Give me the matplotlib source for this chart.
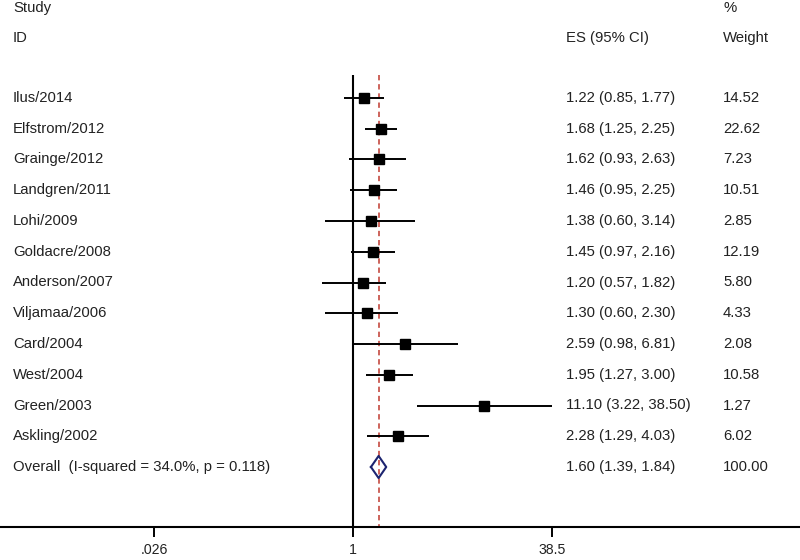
import numpy as np
import matplotlib
matplotlib.use('Agg')
import matplotlib.pyplot as plt
import matplotlib.transforms as mtrans
from matplotlib.ticker import FixedLocator, FixedFormatter, NullLocator

# ------------------------------------------------------------------
# dados
# ------------------------------------------------------------------
estudos = ['Ilus/2014', 'Elfstrom/2012', 'Grainge/2012', 'Landgren/2011',
           'Lohi/2009', 'Goldacre/2008', 'Anderson/2007', 'Viljamaa/2006',
           'Card/2004', 'West/2004', 'Green/2003', 'Askling/2002']
es    = [1.22, 1.68, 1.62, 1.46, 1.38, 1.45, 1.20, 1.30, 2.59, 1.95, 11.10, 2.28]
ic_lo = [0.85, 1.25, 0.93, 0.95, 0.60, 0.97, 0.57, 0.60, 0.98, 1.27, 3.22, 1.29]
ic_hi = [1.77, 2.25, 2.63, 2.25, 3.14, 2.16, 1.82, 2.30, 6.81, 3.00, 38.50, 4.03]
pesos = [14.52, 22.62, 7.23, 10.51, 2.85, 12.19, 5.80, 4.33, 2.08, 10.58, 1.27, 6.02]

overall_label = 'Overall  (I-squared = 34.0%, p = 0.118)'
overall_es, overall_lo, overall_hi = 1.60, 1.39, 1.84
overall_peso = 100.00

ticks = [0.026, 1, 38.5]
tick_labels = ['.026', '1', '38.5']

# ------------------------------------------------------------------
# layout
# ------------------------------------------------------------------
plt.rcParams['font.family'] = ['Liberation Sans', 'DejaVu Sans']
FS = 10.7
TXT = '#222222'

fig = plt.figure(figsize=(8, 5.6), dpi=100)
ax = fig.add_axes([0, 33 / 560, 1, 527 / 560])

ROW = 30.75
y_top = -98 / ROW
y_bot = (527 - 98) / ROW
ax.set_ylim(y_bot, y_top)

PX = 54.5
ax.set_xscale('log')
ax.set_xlim(np.exp(-353 / PX), np.exp(447 / PX))

n = len(estudos)
ys = np.arange(n)
y_ov = n

# linha nula e linha do efeito global
y_start = (75 - 98) / ROW
ax.vlines(1, y_start, y_bot, color='black', lw=1.5, zorder=2)
ax.vlines(overall_es, y_start, y_bot, color='#c0392f', lw=1.1,
          linestyles=(0, (3.5, 2.5)), zorder=1)

# intervalos e quadrados
ax.hlines(ys, ic_lo, ic_hi, color='black', lw=1.4, zorder=3)
ax.plot(es, ys, 's', color='black', ms=7, zorder=4)

# diamante
dx = [overall_lo, overall_es, overall_hi, overall_es, overall_lo]
dy = [y_ov, y_ov - 0.36, y_ov, y_ov + 0.36, y_ov]
ax.plot(dx, dy, color='#1c2470', lw=1.5, zorder=4)

# eixo x
for s in ['top', 'left', 'right']:
    ax.spines[s].set_visible(False)
ax.spines['bottom'].set_linewidth(1.5)
ax.xaxis.set_major_locator(FixedLocator(ticks))
ax.xaxis.set_major_formatter(FixedFormatter(tick_labels))
ax.xaxis.set_minor_locator(NullLocator())
ax.tick_params(axis='x', length=7.2, width=1.4, pad=4, labelsize=FS - 0.5,
               labelcolor=TXT)
ax.set_yticks([])
ax.patch.set_alpha(0)

# textos
tr = mtrans.blended_transform_factory(ax.transAxes, ax.transData)
x_nome, x_es, x_peso = 13 / 800, 566 / 800, 723 / 800
kw = dict(transform=tr, fontsize=FS, color=TXT, va='center', ha='left')

ax.text(x_nome, (8 - 98) / ROW, 'Study', **kw)
ax.text(x_nome, (38 - 98) / ROW, 'ID', **kw)
ax.text(x_es, (38 - 98) / ROW, 'ES (95% CI)', **kw)
ax.text(x_peso, (8 - 98) / ROW, '%', **kw)
ax.text(x_peso, (38 - 98) / ROW, 'Weight', **kw)

for i in range(n):
    ax.text(x_nome, ys[i], estudos[i], **kw)
    ax.text(x_es, ys[i], f'{es[i]:.2f} ({ic_lo[i]:.2f}, {ic_hi[i]:.2f})', **kw)
    ax.text(x_peso, ys[i], f'{pesos[i]:.2f}', **kw)

ax.text(x_nome, y_ov, overall_label, **kw)
ax.text(x_es, y_ov, f'{overall_es:.2f} ({overall_lo:.2f}, {overall_hi:.2f})', **kw)
ax.text(x_peso, y_ov, f'{overall_peso:.2f}', **kw)

fig.savefig('out.png', dpi=100)
